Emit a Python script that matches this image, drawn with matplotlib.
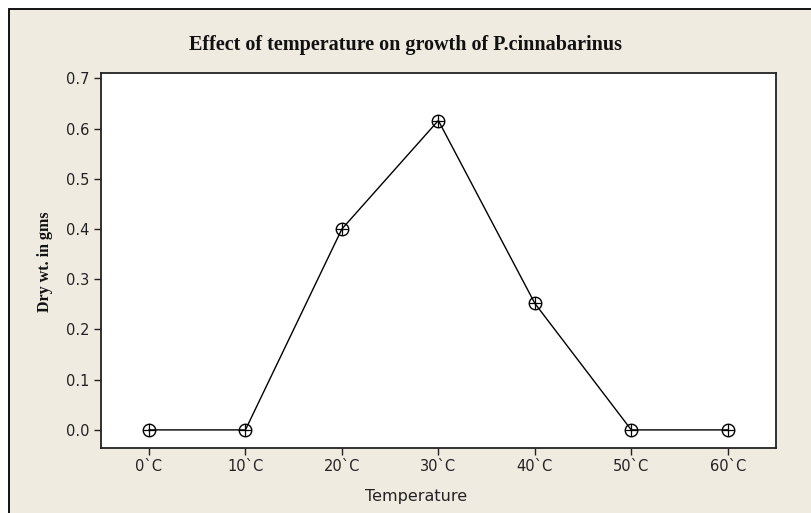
import matplotlib
matplotlib.use('Agg')
import matplotlib.pyplot as plt
from matplotlib.patches import Rectangle

# data
temps = [0, 10, 20, 30, 40, 50, 60]
tick_labels = ['0`C', '10`C', '20`C', '30`C', '40`C', '50`C', '60`C']
dry_wt = [0.0, 0.0, 0.40, 0.616, 0.252, 0.0, 0.0]
yticks = [0.0, 0.1, 0.2, 0.3, 0.4, 0.5, 0.6, 0.7]

bg = '#EFEBE1'

fig = plt.figure(figsize=(8.11, 5.13), dpi=100)
fig.patch.set_facecolor('white')
# beige panel with black frame, running off the right and bottom edges
frame = Rectangle((9 / 811, -0.1), 1.0, 1 - 9 / 513 + 0.1, transform=fig.transFigure,
                  facecolor=bg, edgecolor='black', linewidth=1.3, zorder=-10)
fig.patches.append(frame)

ax = fig.add_axes([100.7 / 811, 1 - 448 / 513, (776 - 100.7) / 811, (448 - 73.3) / 513])
ax.set_facecolor('white')

ax.plot(temps, dry_wt, color='black', linewidth=1.0, zorder=2)
ax.plot(temps, dry_wt, linestyle='none', marker='o', markersize=9,
        markerfacecolor='none', markeredgecolor='black', markeredgewidth=1.0, zorder=3)
ax.plot(temps, dry_wt, linestyle='none', marker='+', markersize=9,
        markeredgecolor='black', markeredgewidth=0.9, zorder=3)

ax.set_xlim(-5, 65)
ax.set_ylim(-0.036, 0.71)
ax.set_xticks(temps)
ax.set_xticklabels(tick_labels)
ax.set_yticks(yticks)
ax.set_yticklabels([f'{v:.1f}' for v in yticks])

for s in ax.spines.values():
    s.set_linewidth(1.3)
    s.set_color('#222222')
ax.tick_params(direction='out', length=5, width=1.0, labelsize=10.5,
               colors='#222222', pad=3, top=False, right=False)
for lab in ax.get_xticklabels() + ax.get_yticklabels():
    lab.set_fontfamily('DejaVu Sans')

fig.text(0.5, 1 - 45 / 513, 'Effect of temperature on growth of P.cinnabarinus',
         ha='center', va='center', fontsize=14.5, fontweight='bold',
         family='Liberation Serif', color='#111111')
fig.text(416 / 811, 1 - 497 / 513, 'Temperature', ha='center', va='center',
         fontsize=11.5, family='DejaVu Sans', color='#222222')
fig.text(45 / 811, 1 - 262 / 513, 'Dry wt. in gms', ha='center', va='center',
         rotation=90, fontsize=11.5, fontweight='bold',
         family='Liberation Serif', color='#111111')

fig.savefig('out.png', dpi=100, facecolor=fig.get_facecolor())
